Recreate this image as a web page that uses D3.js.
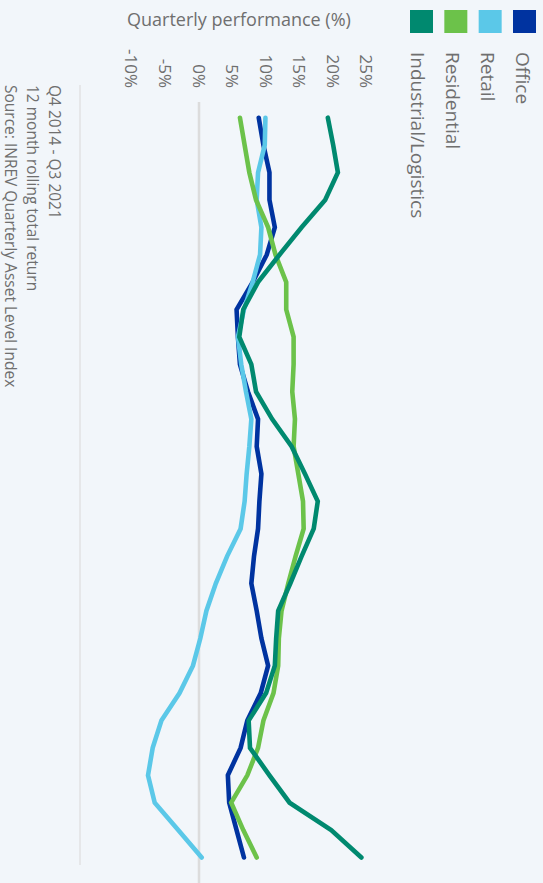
<!DOCTYPE html>
<html>
<head>
<meta charset="utf-8">
<script src="https://cdn.jsdelivr.net/npm/d3@7"></script>
<style>
  html, body { margin: 0; padding: 0; background: #f2f6fa; }
  svg { display: block; font-family: "Open Sans", sans-serif; }
</style>
</head>
<body>
<svg id="chart" width="543" height="883"></svg>
<script>
const quarters = ["Q4 2014",
  "Q1 2015","Q2 2015","Q3 2015","Q4 2015",
  "Q1 2016","Q2 2016","Q3 2016","Q4 2016",
  "Q1 2017","Q2 2017","Q3 2017","Q4 2017",
  "Q1 2018","Q2 2018","Q3 2018","Q4 2018",
  "Q1 2019","Q2 2019","Q3 2019","Q4 2019",
  "Q1 2020","Q2 2020","Q3 2020","Q4 2020",
  "Q1 2021","Q2 2021","Q3 2021"];

const office      = [8.9, 9.6, 10.5, 10.5, 11.3, 10.1, 8.0, 5.6, 5.8, 6.1, 7.3, 8.8, 8.6, 9.3, 9.0, 8.8, 8.2, 7.8, 8.6, 9.3, 10.3, 9.2, 7.2, 6.2, 4.3, 4.5, 5.6, 6.7];
const retail      = [9.9, 9.8, 8.8, 8.6, 9.3, 9.1, 8.0, 6.7, 5.8, 6.3, 7.0, 7.8, 7.5, 7.1, 6.8, 6.2, 4.2, 2.5, 1.1, 0.2, -0.9, -2.9, -5.6, -6.9, -7.6, -6.6, -3.1, 0.4];
const residential = [6.1, 6.8, 7.5, 8.5, 10.3, 11.4, 13.0, 13.0, 14.1, 14.1, 13.9, 14.3, 14.1, 14.8, 15.5, 15.6, 14.4, 13.3, 12.3, 11.9, 11.8, 11.1, 9.6, 8.8, 7.2, 4.8, 6.6, 8.6];
const industrial  = [19.2, 20.0, 20.7, 18.8, 15.3, 12.0, 8.8, 6.6, 6.0, 7.8, 8.5, 10.9, 13.8, 15.8, 17.7, 17.1, 15.3, 13.6, 11.8, 11.5, 11.3, 10.0, 7.4, 7.6, 10.5, 13.5, 19.7, 24.2];

const seriesNames  = ["Office", "Retail", "Residential", "Industrial/Logistics"];
const seriesColors = ["#0033a0", "#5bc8e8", "#6cc24a", "#00896f"];
const seriesValues = [office, retail, residential, industrial];

const yTicks = [-10, -5, 0, 5, 10, 15, 20, 25];
const titleText = "Quarterly performance (%)";
const notes = ["Q4 2014 - Q3 2021", "12 month rolling total return", "Source: INREV Quarterly Asset Level Index"];

const textColor = "#6f6f6f";
const svg = d3.select("#chart");

// Horizontal title
svg.append("text")
  .attr("x", 127).attr("y", 26)
  .attr("font-size", 18).attr("fill", textColor)
  .text(titleText);

// Legend swatches (horizontal row, right to left: Office, Retail, Residential, Industrial)
const swatchX = d3.scalePoint().domain(seriesNames).range([513, 410]);
svg.append("g").selectAll("rect").data(seriesNames).join("rect")
  .attr("x", d => swatchX(d)).attr("y", 10)
  .attr("width", 23).attr("height", 23)
  .attr("fill", (d, i) => seriesColors[i]);

// Rotated chart body
const g = svg.append("g").attr("transform", "translate(543,0) rotate(90)");

const x = d3.scalePoint().domain(quarters).range([117.7, 857.5]);
const y = d3.scaleLinear().domain([-10, 25]).range([411.1, 176.25]);

// Baseline axis line
g.append("line")
  .attr("x1", 85).attr("x2", 865).attr("y1", 463).attr("y2", 463)
  .attr("stroke", "#dedede").attr("stroke-width", 1.2);

// Zero line
g.append("line")
  .attr("x1", 102).attr("x2", 883).attr("y1", y(0)).attr("y2", y(0))
  .attr("stroke", "#dcdcdc").attr("stroke-width", 2.5);

// Y tick labels
g.append("g").selectAll("text").data(yTicks).join("text")
  .attr("x", 88).attr("y", d => y(d))
  .attr("text-anchor", "end").attr("dominant-baseline", "central")
  .attr("font-size", 17).attr("fill", textColor)
  .text(d => d + "%");

// Lines
const line = d3.line().x((d, i) => x(quarters[i])).y(d => y(d));
g.append("g").selectAll("path").data(seriesValues).join("path")
  .attr("d", d => line(d))
  .attr("fill", "none")
  .attr("stroke", (d, i) => seriesColors[i])
  .attr("stroke-width", 4.6)
  .attr("stroke-linecap", "round")
  .attr("stroke-linejoin", "miter");

// Legend labels (rotated)
const legendV = d3.scalePoint().domain(seriesNames).range([20, 125]);
g.append("g").selectAll("text").data(seriesNames).join("text")
  .attr("x", 52).attr("y", d => legendV(d))
  .attr("dominant-baseline", "central")
  .attr("font-size", 19).attr("fill", textColor)
  .text(d => d);

// Notes
const noteV = [488, 510, 532];
g.append("g").selectAll("text").data(notes).join("text")
  .attr("x", 85).attr("y", (d, i) => noteV[i])
  .attr("dominant-baseline", "central")
  .attr("font-size", 15.5).attr("fill", textColor)
  .text(d => d);
</script>
</body>
</html>
